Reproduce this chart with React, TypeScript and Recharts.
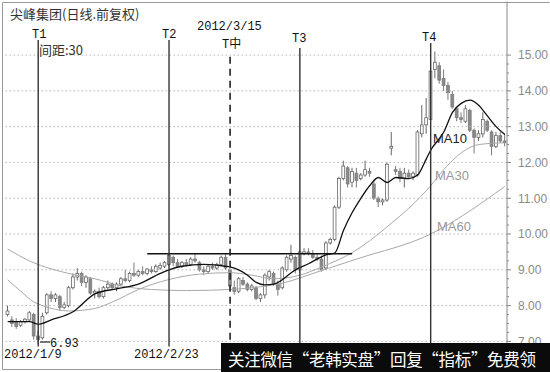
import { Bar, ComposedChart, Line, ReferenceLine, XAxis, YAxis } from "recharts";

// daily candles, one entry per trading day (前复权)
const opens = [
  7.75, 7.6, 7.55, 7.45, 7.55, 7.6, 7.75, 7.15, 7.1, 7.8,
  8.3, 8.2, 8.25, 7.95, 8.0, 8.5, 8.8, 8.9, 8.65, 8.75,
  8.35, 8.4, 8.25, 8.5, 8.6, 8.5, 8.6, 8.75, 8.7, 8.9,
  8.85, 8.95, 8.9, 9.0, 8.95, 9.05, 9.1, 9.15, 9.35, 9.2,
  9.1, 9.2, 9.15, 9.3, 9.2, 9.0, 8.95, 9.1, 9.05, 9.15,
  9.35, 9.0, 8.5, 8.4, 8.7, 8.6, 8.45, 8.5, 8.2, 8.3,
  8.8, 8.9, 8.6, 8.5, 9.0, 9.3, 9.35, 9.0, 9.45, 9.5,
  9.45, 9.35, 9.3, 9.05, 9.75, 9.85, 10.75, 11.55, 11.85, 11.45,
  11.7, 11.55, 11.65, 11.75, 11.4, 11.0, 10.9, 10.95, 12.4, 11.8,
  11.75, 11.55, 11.7, 11.6, 11.65, 12.8, 13.05, 13.2, 14.6, 14.7,
  14.35, 14.15, 13.9, 13.5, 13.25, 13.15, 13.45, 12.9, 12.7, 12.8,
  13.15, 12.85, 12.45, 12.75, 12.6,
];
const highs = [
  8.0, 7.7, 7.65, 7.6, 7.65, 7.85, 7.8, 7.3, 7.8, 8.35,
  8.4, 8.35, 8.3, 8.1, 8.55, 8.9, 9.05, 8.95, 8.85, 8.8,
  8.45, 8.5, 8.55, 8.7, 8.65, 8.65, 8.8, 9.0, 8.95, 9.2,
  9.0, 9.1, 9.05, 9.1, 9.15, 9.2, 9.25, 9.45, 9.4, 9.3,
  9.25, 9.3, 9.35, 9.45, 9.25, 9.1, 9.15, 9.2, 9.2, 9.4,
  9.45, 9.05, 8.7, 8.8, 8.8, 8.65, 8.6, 8.55, 8.35, 8.9,
  9.0, 8.95, 8.7, 9.1, 9.4, 9.7, 9.4, 9.55, 9.6, 9.6,
  9.55, 9.45, 9.4, 9.8, 9.9, 10.8, 11.6, 12.05, 11.9, 11.85,
  11.85, 11.7, 12.05, 11.85, 11.5, 11.05, 11.0, 12.0, 12.85, 11.9,
  11.85, 11.85, 11.8, 11.75, 12.9, 13.6, 13.8, 14.6, 15.1, 14.8,
  14.6, 14.25, 14.0, 13.55, 13.4, 13.6, 13.5, 12.95, 12.9, 13.4,
  13.2, 12.9, 12.85, 12.85, 12.8,
];
const lows = [
  7.7, 7.4, 7.35, 7.4, 7.5, 7.55, 7.05, 6.93, 7.05, 7.75,
  8.1, 8.1, 7.85, 7.9, 7.95, 8.45, 8.7, 8.55, 8.5, 8.3,
  8.2, 8.2, 8.2, 8.45, 8.45, 8.4, 8.55, 8.65, 8.65, 8.8,
  8.8, 8.85, 8.85, 8.9, 8.92, 9.0, 9.05, 9.1, 9.1, 9.05,
  9.05, 9.1, 9.1, 9.2, 8.95, 8.85, 8.9, 9.0, 9.0, 9.1,
  9.0, 8.45, 8.3, 8.35, 8.55, 8.4, 8.4, 8.15, 8.1, 8.2,
  8.7, 8.55, 8.28, 8.45, 8.95, 9.2, 8.9, 8.9, 9.4, 9.4,
  9.3, 9.25, 8.95, 9.0, 9.7, 9.8, 10.7, 11.5, 11.3, 11.3,
  11.3, 11.5, 11.6, 11.6, 10.95, 10.75, 10.8, 10.9, 12.2, 11.65,
  11.45, 11.3, 11.55, 11.5, 11.6, 12.7, 12.8, 12.9, 14.35, 14.2,
  14.0, 13.75, 13.5, 13.15, 13.1, 13.1, 12.85, 12.25, 12.6, 12.7,
  12.85, 12.2, 12.4, 12.55, 12.45,
];
const closes = [
  7.85, 7.5, 7.42, 7.55, 7.62, 7.8, 7.15, 7.05, 7.7, 8.3,
  8.2, 8.3, 7.95, 8.02, 8.5, 8.8, 8.9, 8.65, 8.8, 8.35,
  8.4, 8.25, 8.5, 8.6, 8.5, 8.6, 8.75, 8.7, 8.9, 8.85,
  8.95, 8.9, 9.02, 8.95, 9.1, 9.12, 9.2, 9.4, 9.2, 9.1,
  9.2, 9.15, 9.3, 9.25, 9.0, 8.95, 9.1, 9.05, 9.15, 9.35,
  9.05, 8.55, 8.4, 8.75, 8.6, 8.45, 8.55, 8.2, 8.3, 8.85,
  8.95, 8.6, 8.45, 9.05, 9.35, 9.4, 9.0, 9.5, 9.5, 9.45,
  9.35, 9.3, 9.0, 9.75, 9.85, 10.75, 11.55, 11.9, 11.4, 11.75,
  11.5, 11.65, 11.8, 11.7, 11.0, 10.9, 10.95, 11.95, 12.45, 11.75,
  11.55, 11.7, 11.6, 11.7, 12.85, 13.05, 13.25, 14.55, 14.8, 14.3,
  14.15, 13.95, 13.55, 13.25, 13.2, 13.5, 12.9, 12.7, 12.8, 13.2,
  12.9, 12.45, 12.75, 12.6, 12.55,
];

// moving averages read at selected days: [day index, value]
const ma10: [number, number][] = [
  [0, 7.55], [5, 7.55], [7, 7.48], [10, 7.6], [15, 7.83], [20, 8.33], [25, 8.47],
  [30, 8.6], [35, 8.9], [37, 9.0], [40, 9.1], [45, 9.15], [50, 9.1], [51, 9.08],
  [55, 8.85], [57, 8.65], [59, 8.58], [61, 8.6], [66, 9.0], [69, 9.17], [73, 9.42],
  [75, 9.47], [77, 10.1], [79, 10.6], [81, 11.0], [83, 11.35], [85, 11.58], [87, 11.44],
  [89, 11.58], [92, 11.55], [94, 11.65], [96, 12.1], [97, 12.34], [100, 12.85], [102, 13.4],
  [104, 13.65], [106, 13.74], [108, 13.6], [110, 13.3], [112, 13.0], [114, 12.78],
];
const ma30: [number, number][] = [
  [0, 8.72], [3, 8.4], [6, 8.1], [8, 8.0], [14, 7.85], [20, 7.92], [24, 8.1],
  [30, 8.45], [37, 8.73], [44, 8.88], [51, 8.92], [56, 8.85], [61, 8.75], [67, 8.85],
  [72, 9.08], [79, 9.48], [87, 10.2], [97, 11.35], [100, 11.8], [105, 12.35],
  [108, 12.5], [114, 12.55],
];
const ma60: [number, number][] = [
  [0, 9.58], [5, 9.25], [15, 8.87], [20, 8.75], [26, 8.55], [33, 8.45], [41, 8.42],
  [51, 8.45], [56, 8.5], [62, 8.6], [72, 8.98], [80, 9.3], [97, 10.0], [114, 11.33],
];

const yLabels = [7, 8, 9, 10, 11, 12, 13, 14, 15];
const tMarks = [
  { name: "T1", day: 7, top: 15.42 },
  { name: "T2", day: 37, top: 15.42 },
  { name: "T3", day: 67, top: 15.2 },
  { name: "T4", day: 97, top: 15.34 },
];
const tMid = { day: 51, top: 14.95 };
const neckline = { from: 32, to: 79, price: 9.45 };

const toMap = (pts: [number, number][]) => new Map(pts.map(([i, v]) => [i, v]));
const m10 = toMap(ma10);
const m30 = toMap(ma30);
const m60 = toMap(ma60);

const data = opens.map((open, i) => ({
  idx: i,
  open,
  high: highs[i],
  low: lows[i],
  close: closes[i],
  ma10: m10.get(i) ?? null,
  ma30: m30.get(i) ?? null,
  ma60: m60.get(i) ?? null,
}));

const yTicks = yLabels.flatMap((v) => (v < 15 ? [v, v + 0.25, v + 0.5, v + 0.75] : [v]));

const Candle = (props: any) => {
  const { x, y, width, height, payload } = props;
  const top = Math.min(y, y + height);
  const h = Math.abs(height);
  const span = payload.high - payload.low || 1;
  const py = (v: number) => top + ((payload.high - v) / span) * h;
  const cx = x + width / 2;
  const up = payload.close >= payload.open;
  const bTop = py(Math.max(payload.open, payload.close));
  const bBot = py(Math.min(payload.open, payload.close));
  const stroke = up ? "#666" : "#7a7a7a";
  return (
    <g>
      <line x1={cx} x2={cx} y1={top} y2={bTop} stroke={stroke} strokeWidth={1} />
      <line x1={cx} x2={cx} y1={bBot} y2={top + h} stroke={stroke} strokeWidth={1} />
      <rect
        x={cx - 1.4}
        y={bTop}
        width={2.8}
        height={Math.max(bBot - bTop, 0.8)}
        fill={up ? "#fff" : "#8a8a8a"}
        stroke={stroke}
        strokeWidth={0.8}
      />
    </g>
  );
};

const AxisTick = (props: any) => {
  const { x, y, payload } = props;
  const major = Number.isInteger(payload.value);
  return (
    <g>
      <line x1={x} x2={x + (major ? 4 : 2)} y1={y} y2={y} stroke="#888" />
      {major && (
        <text x={x + 11} y={y} dy="0.36em" fontSize={12} fill="#8a8a8a" fontFamily="Liberation Sans, Arial">
          {payload.value.toFixed(2)}
        </text>
      )}
    </g>
  );
};

export default function App() {
  return (
    <div style={{ position: "absolute", left: 0, top: 0, width: 550, height: 372, background: "#fff" }}>
      <ComposedChart
        width={550}
        height={372}
        data={data}
        margin={{ top: 1.4, right: 0, bottom: 25.6, left: 5.5 }}
        barCategoryGap={0}
      >
        <XAxis dataKey="idx" type="category" hide />
        <YAxis
          orientation="right"
          type="number"
          domain={[6.86, 16.5]}
          allowDataOverflow
          ticks={yTicks}
          interval={0}
          width={43}
          tickSize={0}
          tickMargin={0}
          tickLine={false}
          axisLine={{ stroke: "#888" }}
          tick={<AxisTick />}
        />
        {yLabels.map((v) => (
          <ReferenceLine key={v} y={v} stroke="#b5b5b5" strokeDasharray="1.5 2.5" />
        ))}
        <Bar dataKey={(d: any) => [d.low, d.high]} shape={<Candle />} isAnimationActive={false} />
        <Line dataKey="ma60" type="monotone" stroke="#a8a8a8" strokeWidth={1} dot={false} connectNulls isAnimationActive={false} />
        <Line dataKey="ma30" type="monotone" stroke="#a8a8a8" strokeWidth={1} dot={false} connectNulls isAnimationActive={false} />
        <Line dataKey="ma10" type="monotone" stroke="#111" strokeWidth={1.3} dot={false} connectNulls isAnimationActive={false} />
        <ReferenceLine
          segment={[{ x: neckline.from, y: neckline.price }, { x: neckline.to, y: neckline.price }]}
          stroke="#111"
          strokeWidth={1.5}
          ifOverflow="visible"
        />
        {tMarks.map((t) => (
          <ReferenceLine
            key={t.name}
            segment={[{ x: t.day, y: t.top }, { x: t.day, y: 6.86 }]}
            stroke="#333"
            strokeWidth={1.4}
            ifOverflow="visible"
          />
        ))}
        <ReferenceLine
          segment={[{ x: tMid.day, y: tMid.top }, { x: tMid.day, y: 6.86 }]}
          stroke="#222"
          strokeWidth={1.6}
          strokeDasharray="7 5"
          ifOverflow="visible"
        />
      </ComposedChart>
      <svg width={550} height={372} style={{ position: "absolute", left: 0, top: 0, pointerEvents: "none" }}>
        <path d="M549.5 2.5 H2.5 V369.5 H549.5" fill="none" stroke="#999" />
        <g fontFamily="Noto Sans CJK SC" fill="#333">
          <text x={10} y={19} fontSize={13}>尖峰集团(日线.前复权)</text>
          <text x={39} y={55} fontSize={13}>间距:30</text>
        </g>
        <g fontFamily="Liberation Mono, monospace" fontSize={12} fill="#111">
          <text x={32} y={38}>T1</text>
          <text x={162} y={38}>T2</text>
          <text x={292} y={42}>T3</text>
          <text x={422} y={41}>T4</text>
          <text x={197} y={30}>2012/3/15</text>
          <text x={222} y={48}>T<tspan fontFamily="Noto Sans CJK SC">中</tspan></text>
          <text x={4} y={358}>2012/1/9</text>
          <text x={134} y={358}>2012/2/23</text>
          <text x={50} y={347}>6.93</text>
        </g>
        <line x1={40} x2={50} y1={342} y2={342} stroke="#222" strokeWidth={1.2} />
        <g fontFamily="Liberation Sans, Arial" fontSize={13}>
          <text x={433} y={143} fill="#222">MA10</text>
          <text x={435} y={180} fill="#999">MA30</text>
          <text x={437} y={231} fill="#999">MA60</text>
        </g>
        <rect x={221} y={343} width={329} height={29} fill="#0b0b0b" />
        <text x={228} y={366} fontSize={16.5} fill="#fff" fontFamily="Noto Sans CJK SC" textLength={308} lengthAdjust="spacing">
          关注微信“老韩实盘”回复“指标”免费领
        </text>
      </svg>
    </div>
  );
}
